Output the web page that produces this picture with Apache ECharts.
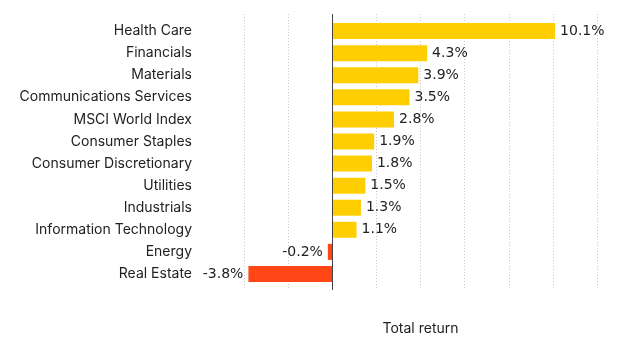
<!DOCTYPE html>
<html><head><meta charset="utf-8">
<script src="https://cdn.jsdelivr.net/npm/echarts@6/dist/echarts.min.js"></script>
<style>html,body{margin:0;padding:0;background:#fff}#c{width:630px;height:347px}</style>
</head><body><div id="c"></div>
<script>
const categories = ["Health Care","Financials","Materials","Communications Services","MSCI World Index","Consumer Staples","Consumer Discretionary","Utilities","Industrials","Information Technology","Energy","Real Estate"];
const values = [10.1,4.3,3.9,3.5,2.8,1.9,1.8,1.5,1.3,1.1,-0.2,-3.8];
const axisName = "Total return";
const FONT = "Inter";
const VFONT = "DejaVu Sans";
const chart = echarts.init(document.getElementById('c'));
chart.setOption({
  animation:false,
  grid:[
    {left:244,right:33,top:20,bottom:62,containLabel:false},
    {left:244,right:33,top:14,bottom:57,containLabel:false}
  ],
  xAxis:[
    {gridIndex:0,type:'value',min:-4,max:12,interval:2,
      axisLabel:{show:false},axisTick:{show:false},axisLine:{show:false},splitLine:{show:false}},
    {gridIndex:1,type:'value',min:-4,max:12,interval:2,
      axisLabel:{show:false},axisTick:{show:false},axisLine:{show:false},
      splitLine:{show:true,lineStyle:{type:[1,2],color:'#c8c8c8',width:1}},
      name:axisName,nameLocation:'middle',nameGap:32,
      nameTextStyle:{fontFamily:FONT,fontSize:14,color:'#222'}}
  ],
  yAxis:[
    {gridIndex:0,type:'category',data:categories,inverse:true,
      axisLine:{show:false},axisTick:{show:false},
      axisLabel:{margin:52,fontFamily:FONT,fontSize:14,color:'#222'}},
    {gridIndex:1,type:'value',min:0,max:1,show:false}
  ],
  series:[
    {type:'bar',xAxisIndex:0,yAxisIndex:0,barWidth:16,z:3,
      data:values.map(v=>({value:v,
        itemStyle:{color:v<0?'#FF4614':'#FFCE00'},
        label:{position:v<0?'left':'right'}})),
      label:{show:true,distance:5,fontFamily:VFONT,fontSize:14,color:'#222',formatter:p=>p.value+'%'}},
    {type:'line',xAxisIndex:1,yAxisIndex:1,data:[[0,0]],symbol:'none',silent:true,z:4,
      markLine:{silent:true,symbol:'none',label:{show:false},animation:false,
        lineStyle:{color:'#444',type:'solid',width:1},data:[{xAxis:0}]}}
  ]
});
</script></body></html>
